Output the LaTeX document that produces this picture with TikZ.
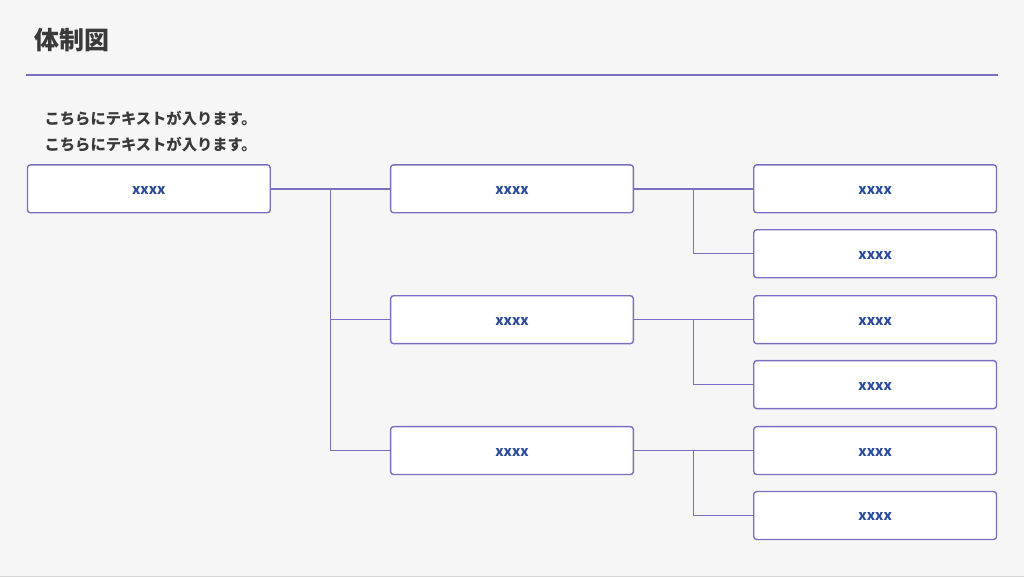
\documentclass[tikz,border=0pt]{standalone}
\usepackage{fontspec}
\setmainfont{Noto Sans CJK JP}
\usetikzlibrary{positioning,calc}
\definecolor{linepurple}{HTML}{7A70C2}
\definecolor{textblue}{HTML}{2B4A99}
\definecolor{bggray}{HTML}{F6F6F6}
\definecolor{headgray}{HTML}{3A3A3A}

\begin{document}
\begin{tikzpicture}[
  x=1pt,y=-1pt,
  member box/.style = {draw=linepurple,line width=1.4pt,fill=white,rounded corners=3pt,
    minimum width=243pt,minimum height=48pt,inner sep=0pt,text height=11pt,text depth=0pt,
    font=\fontsize{14}{14}\selectfont\bfseries,text=textblue},
  branch/.style = {draw=linepurple,line width=1.4pt},
  ]
  % background and frame
  \fill[bggray] (0,0) rectangle (1024,578);
  \draw[gray!35,line width=1pt] (0,577.5) -- (1024,577.5);
  % heading
  \node[anchor=west,inner sep=0pt,text=headgray,font=\fontsize{25}{25}\selectfont\bfseries] (title) at (34,40) {体制図};
  \draw[linepurple,line width=2pt] (26,75) -- (998,75);
  \node[anchor=west,inner sep=0pt,align=left,text=headgray,font=\fontsize{15.3}{26}\selectfont\bfseries] (intro) at (44,132)
    {こちらにテキストが入ります。\\こちらにテキストが入ります。};
  % boxes
  \node[member box] (root) at (148.5,189) {xxxx};
  \foreach \i/\y in {1/189,2/320,3/451} {
    \node[member box] (mid\i) at (512,\y) {xxxx};
  }
  \foreach \i/\y in {1/189,2/254,3/320,4/385,5/451,6/516} {
    \node[member box] (leaf\i) at (875.5,\y) {xxxx};
  }
  % connectors
  \draw[branch] (root.east) -- (mid1.west);
  \draw[branch] ($(root.east)!.5!(mid1.west)$) |- (mid2.west);
  \draw[branch] ($(root.east)!.5!(mid1.west)$) |- (mid3.west);
  \foreach \i/\a/\b in {1/1/2,2/3/4,3/5/6} {
    \draw[branch] (mid\i.east) -- (leaf\a.west);
    \draw[branch] ($(mid\i.east)!.5!(leaf\a.west)$) |- (leaf\b.west);
  }
\end{tikzpicture}
\end{document}
